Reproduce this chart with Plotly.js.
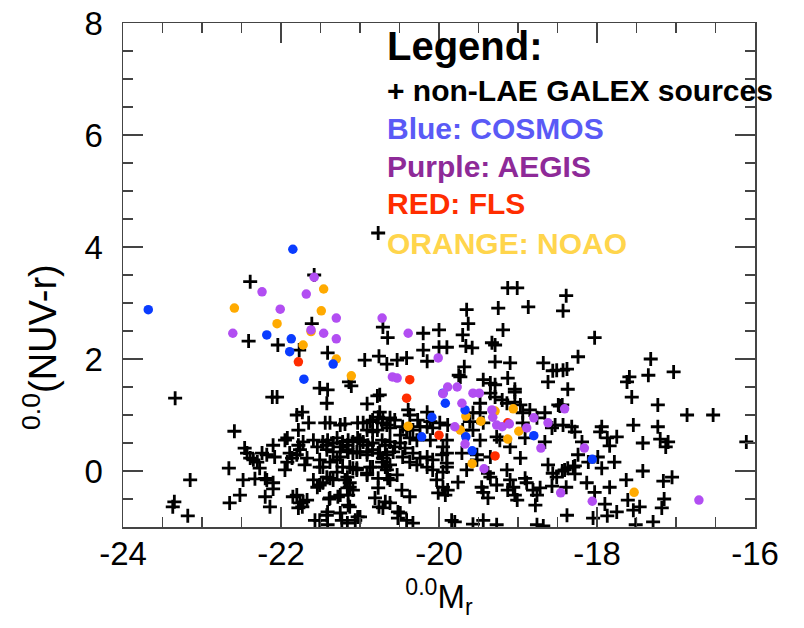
<!DOCTYPE html>
<html>
<head>
<meta charset="utf-8">
<script src="https://cdn.plot.ly/plotly-3.0.1.min.js"></script>
<style>html,body{margin:0;padding:0;background:#fff;}#chart{width:804px;height:628px;}</style>
</head>
<body>
<div id="chart"></div>
<script>
// non-LAE GALEX sources (black plus signs)
const galexX = [-20.77,-22.39,-21.58,-21.61,-22.41,-22.04,-21.77,-21.41,-20.94,-20.76,-20.66,-20.53,-20.71,-20.65,-21.14,-21.11,-21.51,-21.41,-23.34,-22.11,-22.05,-20.78,-21.42,-20.91,-21.73,-21.80,-21.65,-21.44,-21.38,-21.25,-21.19,-21.03,-20.96,-20.75,-20.71,-20.62,-20.56,-20.91,-20.84,-22.59,-21.78,-21.95,-21.92,-22.10,-22.46,-22.43,-22.39,-22.35,-22.30,-22.24,-22.18,-22.08,-22.27,-21.78,-21.76,-21.80,-21.72,-21.59,-21.54,-21.89,-21.86,-21.92,-21.95,-21.67,-21.70,-21.51,-21.51,-21.42,-21.34,-21.29,-21.25,-21.16,-21.09,-21.00,-21.34,-21.25,-21.15,-21.04,-20.91,-21.38,-21.29,-21.22,-21.09,-21.04,-21.29,-21.16,-21.19,-21.42,-21.34,-21.59,-21.54,-21.51,-20.77,-20.71,-20.66,-20.72,-20.68,-20.84,-20.91,-20.77,-20.65,-20.62,-23.15,-22.66,-22.48,-22.33,-22.20,-22.18,-22.10,-22.10,-22.20,-22.14,-22.52,-22.65,-23.35,-23.37,-23.18,-21.85,-21.80,-21.76,-21.72,-21.67,-21.78,-21.73,-21.57,-21.51,-21.42,-21.41,-21.41,-21.25,-21.23,-21.16,-21.15,-21.13,-21.39,-21.28,-21.16,-21.13,-21.15,-21.03,-21.06,-20.77,-20.81,-20.68,-20.62,-20.71,-20.52,-20.52,
-20.77,-20.87,-20.84,-20.72,-20.66,-20.78,-20.62,-20.39,-20.37,-20.27,-20.15,-20.11,-20.46,-20.41,-20.33,-20.24,-20.15,-20.08,-19.99,-19.89,-20.49,-20.37,-20.28,-20.11,-19.90,-19.95,-21.47,-21.41,-21.22,-21.15,-21.03,-20.96,-20.90,-20.84,-20.72,-20.68,-20.62,-20.56,-20.49,-20.43,-21.42,-21.16,-21.09,-21.00,-20.91,-20.84,-20.75,-20.58,-20.46,-20.33,-20.24,-20.15,-20.08,-19.96,-21.47,-21.13,-21.04,-20.87,-20.66,-20.62,-20.37,-20.28,-20.15,-20.08,-19.95,-19.90,-21.47,-21.38,-21.13,-21.09,-20.91,-20.53,-20.03,-19.95,-21.38,-21.25,-20.47,-20.37,-20.01,-19.92,-21.00,-20.49,-20.41,-20.33,-20.76,
-19.73,-19.44,-19.35,-19.29,-19.13,-18.62,-18.51,-18.43,-19.04,-19.35,-19.29,-19.20,-19.14,-19.04,-18.97,-19.48,-19.57,-19.48,-19.44,-19.61,-19.70,-19.57,-18.94,-18.85,-18.94,-18.76,-18.66,-18.57,-18.49,-18.44,-19.48,-19.27,-19.23,-19.10,-18.91,-18.66,-18.53,-19.90,-19.71,-19.52,-19.35,-18.97,-19.52,-19.90,-19.65,-19.35,-19.38,-19.14,-18.62,-18.51,-18.41,-18.37,-19.76,-19.46,-19.44,-19.27,-19.10,-19.06,-18.91,-18.89,-19.89,-19.38,-19.13,-19.04,-19.01,-18.81,-18.72,-18.76,-18.78,-19.84,-19.80,-19.57,-19.44,-19.27,-18.76,-18.68,-18.38,
-19.13,-19.01,-18.39,-18.43,-19.65,-19.25,-18.87,-19.63,-19.70,-19.19,-20.00,-20.20,-20.20,-20.00,-19.90,-19.66,-19.58,-19.33,-19.29,-18.03,-18.24,-18.68,-18.56,-18.38,-19.29,-19.10,-19.68,-20.41,-20.15,-17.32,-17.35,-17.03,-17.59,-17.62,-19.75,-18.37,-19.04,-20.75,-18.47,
-17.56,-17.23,-16.86,-16.53,-17.54,-17.23,-17.94,-17.96,-18.32,-18.28,-18.19,-17.87,-17.75,-17.84,-17.42,-17.20,-17.10,-17.13,-16.11,-18.24,-18.11,-18.28,-18.44,-17.99,-17.94,-17.78,-17.42,-17.05,-17.16,-18.28,-18.13,-17.84,-18.39,-17.63,-18.03,-17.61,-17.15,-17.46,-17.54,-17.18,-17.90,-17.87,-17.75,-18.05,-17.29,-17.51,-18.56,-18.30,-18.57,-18.43];
const galexY = [4.25,3.38,3.50,2.63,2.32,2.25,2.16,2.11,1.98,2.05,1.91,1.98,2.57,2.38,1.59,1.52,1.48,1.45,1.30,1.32,1.32,1.34,1.21,1.20,1.05,1.00,0.86,0.86,0.86,0.82,0.84,0.86,0.86,1.05,0.93,0.95,0.91,0.73,0.70,0.71,0.73,0.55,0.59,0.46,0.41,0.32,0.23,0.20,0.16,0.32,0.29,0.25,0.05,0.46,0.38,0.29,0.52,0.55,0.43,0.32,0.23,0.16,0.02,0.23,0.11,0.20,0.07,0.46,0.50,0.59,0.43,0.46,0.52,0.55,0.34,0.25,0.34,0.34,0.34,0.16,0.20,0.07,0.05,0.05,-0.02,-0.11,-0.16,-0.11,-0.16,-0.16,-0.29,-0.25,0.32,0.23,0.29,0.16,0.07,0.07,-0.04,-0.13,-0.13,-0.16,-0.16,0.05,-0.16,-0.14,-0.13,-0.16,-0.21,-0.32,-0.46,-0.64,-0.43,-0.57,-0.55,-0.64,-0.80,-0.46,-0.43,-0.57,-0.55,-0.52,-0.66,-0.64,-0.88,-0.88,-0.79,-0.73,-0.96,-0.75,-0.88,-0.93,-0.61,-0.64,-0.50,-0.46,-0.30,-0.29,-0.43,-0.82,-0.88,-0.30,-0.48,-0.55,-0.57,-0.66,-0.73,-0.84,
0.96,0.88,0.91,0.86,0.82,0.73,0.77,1.09,1.00,0.91,1.05,0.88,0.79,0.73,0.73,0.79,0.79,0.77,0.86,0.82,0.64,0.59,0.55,0.55,0.55,0.43,0.52,0.55,0.52,0.55,0.59,0.52,0.46,0.50,0.55,0.46,0.52,0.43,0.50,0.41,0.38,0.38,0.32,0.34,0.29,0.38,0.32,0.34,0.25,0.32,0.23,0.25,0.20,0.29,0.07,0.07,0.02,0.07,0.02,0.11,0.16,0.11,0.07,0.02,-0.02,0.14,-0.21,-0.13,-0.21,-0.34,-0.07,-0.07,-0.16,-0.29,-0.48,-0.43,-0.34,-0.46,-0.39,-0.43,-0.82,-0.75,-0.88,-0.93,-0.64,
1.68,1.63,1.57,1.54,1.66,1.59,1.80,1.80,1.41,1.39,1.32,1.27,1.21,1.23,1.18,1.21,1.04,1.04,0.86,0.88,0.73,0.73,1.04,1.09,0.86,0.95,1.04,0.77,1.18,1.18,0.55,0.61,0.55,0.43,0.59,0.52,0.82,0.32,0.32,0.29,0.25,0.23,0.20,0.07,0.02,-0.11,-0.04,0.02,0.11,-0.11,0.02,0.05,-0.20,-0.29,-0.38,-0.25,-0.16,-0.29,-0.13,-0.21,-0.34,-0.48,-0.34,-0.43,-0.52,-0.34,-0.30,-0.43,-0.61,-0.88,-0.91,-0.95,-0.88,-0.96,-0.96,-0.98,-0.79,
3.27,3.27,3.13,2.86,2.88,2.91,2.93,2.63,2.43,2.52,2.52,2.46,2.16,2.21,2.21,2.23,2.20,2.29,2.25,2.38,2.04,1.93,1.79,1.82,1.95,1.93,1.86,2.02,1.96,2.00,1.71,1.77,1.68,1.59,1.71,1.46,1.46,1.36,1.16,
1.32,1.18,1.00,1.00,0.82,0.79,0.79,0.70,0.79,0.70,0.52,0.59,0.61,0.45,0.50,0.57,0.52,0.43,0.52,0.29,0.16,0.09,0.00,0.25,0.05,0.16,0.00,-0.11,-0.18,-0.05,-0.21,-0.29,-0.29,-0.16,-0.38,-0.52,-0.50,-0.64,-0.70,-0.66,-0.59,-0.80,-0.73,-0.84,-0.91,-0.96,-0.04,0.07,-0.27,0.82];

// COSMOS (blue)
const blueX = [-23.68,-21.85,-22.18,-21.87,-21.89,-21.34,-21.71,-19.92,-19.95,-20.09,-20.22,-19.67,-19.66,-19.58,-18.80,-18.06];
const blueY = [2.88,3.96,2.43,2.36,2.13,1.91,1.64,1.21,1.39,0.96,0.61,1.09,0.61,0.36,0.63,0.21];

// AEGIS (purple)
const purpleX = [-21.58,-22.24,-21.68,-22.01,-21.30,-22.61,-21.62,-21.46,-21.30,-20.72,-20.59,-20.53,-20.39,-20.01,-19.89,-19.77,-19.95,-19.57,-19.49,-19.71,-19.33,-19.32,-19.27,-19.20,-19.11,-18.89,-18.80,-18.62,-18.41,-19.80,-19.67,-18.71,-19.43,-18.46,-18.16,-18.06,-16.71];
const purpleY = [3.46,3.20,3.16,2.89,2.73,2.46,2.52,2.46,2.36,2.73,1.68,1.66,2.46,2.02,1.50,1.50,1.38,1.39,1.39,1.21,1.09,0.96,0.82,0.79,0.84,0.77,0.95,0.86,1.11,0.79,0.48,0.41,0.04,-0.39,0.41,-0.54,-0.52];

// FLS (red)
const redX = [-21.78,-20.37,-20.41,-20.00,-19.29,-19.13];
const redY = [1.95,1.63,1.30,0.64,0.27,0.86];

// NOAO (orange)
const orangeX = [-22.59,-21.46,-21.49,-22.05,-21.72,-21.30,-21.11,-21.62,-20.39,-19.66,-19.73,-19.47,-19.29,-19.06,-18.99,-19.13,-19.58,-17.53];
const orangeY = [2.91,3.25,2.86,2.63,2.25,2.00,1.70,2.49,0.80,0.98,0.73,0.89,1.07,1.11,0.71,0.57,0.13,-0.38];

// axis ticks
const xTickVals = [-24,-22,-20,-18,-16];
const xTickText = ['-24','-22','-20','-18','-16'];
const yTickVals = [0,2,4,6,8];
const yTickText = ['0','2','4','6','8'];

// legend text lines
const legendLines = ['Legend:','+ non-LAE GALEX sources','Blue: COSMOS','Purple: AEGIS','RED: FLS','ORANGE: NOAO'];

const FONT = 'Liberation Sans, Arial, Helvetica, sans-serif';
const dot = (c) => ({symbol:'circle', size:9.5, color:c, line:{width:0}});

const traces = [
  {x:galexX, y:galexY, type:'scatter', mode:'markers', name:'GALEX',
   marker:{symbol:'cross-thin', size:10, line:{width:2.8, color:'#000'}, color:'#000'}},
  {x:orangeX, y:orangeY, type:'scatter', mode:'markers', name:'NOAO', marker:dot('#ffaa00')},
  {x:redX, y:redY, type:'scatter', mode:'markers', name:'FLS', marker:dot('#ff2d00')},
  {x:blueX, y:blueY, type:'scatter', mode:'markers', name:'COSMOS', marker:dot('#0a3cff')},
  {x:purpleX, y:purpleY, type:'scatter', mode:'markers', name:'AEGIS', marker:dot('#b24ef2')}
];

const axisCommon = {
  ticks:'inside', ticklen:20, tickwidth:1.5, tickcolor:'#444',
  showline:true, linecolor:'#444', linewidth:1.5, mirror:'ticks',
  showgrid:false, zeroline:false,
  tickfont:{family:FONT, size:33, color:'#000'},
  minor:{dtick:0.5, ticks:'inside', ticklen:10, tickwidth:1.5, tickcolor:'#444', showgrid:false}
};

const legendColors = ['#000','#000','#5a5af6','#8e2a98','#ff2d00','#ffd54c'];
const legendSizes = [40,30,30,30,30,30];
const legendPy = [46,91,128,166,204,243];

const annotations = legendLines.map((t,i) => ({
  text:t, xref:'paper', yref:'paper', x:(385-123)/632, y:(527-legendPy[i])/504,
  xanchor:'left', yanchor:'middle', showarrow:false,
  font:{family:FONT, size:legendSizes[i], color:legendColors[i], weight:'bold'}
}));
annotations.push({
  text:'<sup>0.0</sup>(NUV-r)', xref:'paper', yref:'paper', x:(40-123)/632, y:(527-347)/504,
  xanchor:'center', yanchor:'middle', textangle:-90, showarrow:false,
  font:{family:FONT, size:38, color:'#000'}
});

const layout = {
  width:804, height:628,
  margin:{l:123, r:49, t:23, b:101, pad:0},
  paper_bgcolor:'#fff', plot_bgcolor:'#fff',
  showlegend:false,
  xaxis:Object.assign({}, axisCommon, {
    range:[-24,-16], tickmode:'array', tickvals:xTickVals, ticktext:xTickText,
    ticklabelstandoff:-3,
    title:{text:'<sup>0.0</sup>M<sub>r</sub>', font:{family:FONT, size:33, color:'#000'}, standoff:14}
  }),
  yaxis:Object.assign({}, axisCommon, {
    range:[-1,8], tickmode:'array', tickvals:yTickVals, ticktext:yTickText,
    ticklabelstandoff:12
  }),
  annotations:annotations
};

Plotly.newPlot('chart', traces, layout, {displayModeBar:false, staticPlot:true});
</script>
</body>
</html>
